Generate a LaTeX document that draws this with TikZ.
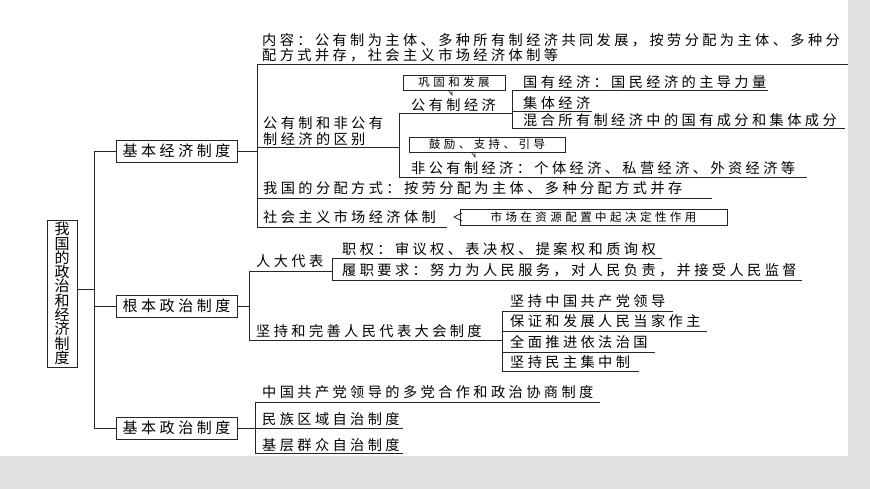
\documentclass[tikz,border=0pt]{standalone}
\usepackage{fontspec}
\newfontfamily\cj[LetterSpace=24]{Noto Sans CJK SC}
\newfontfamily\cjs[LetterSpace=30]{Noto Sans CJK SC}
\begin{document}
\begin{tikzpicture}[x=1pt,y=-1pt,
  ln/.style={draw=black!85,line width=0.9pt},
  tx/.style={anchor=west,inner sep=0pt,font=\cj\fontsize{14.2}{16}\selectfont,align=left},
  sm/.style={anchor=center,inner sep=0pt,font=\cjs\fontsize{11.5}{12}\selectfont},
  bx/.style={draw=black!85,line width=0.9pt,fill=white}]
\fill[black!12] (0,0) rectangle (870,489);
\fill[white] (0,0) rectangle (848,456);
% root
\draw[bx] (47,220) rectangle (77,367);
\node[inner sep=0pt,align=center,font=\cj\fontsize{15}{14.3}\selectfont] (root) at (62,293.5) {我\\国\\的\\政\\治\\和\\经\\济\\制\\度};
\draw[ln] (77,289) -- (94,289);
\draw[ln] (94,151) -- (94,428);
% level1
\foreach \yy/\nm/\t in {151/b1/基本经济制度,306/b2/根本政治制度,428/b3/基本政治制度}{
  \draw[ln] (94,\yy) -- (116,\yy);
  \draw[bx] (116,\yy-11) rectangle (237,\yy+11);
  \node[inner sep=0pt,font=\cj\fontsize{15}{16}\selectfont] (\nm) at (176.5,\yy) {\t};
}
% ---- basic economic
\draw[ln] (237,151) -- (257,151);
\draw[ln] (257,64) -- (257,227);
\node[tx,font=\cj\fontsize{14.2}{15.5}\selectfont] (c1) at (262,47.5) {内容：公有制为主体、多种所有制经济共同发展，按劳分配为主体、多种分\\配方式并存，社会主义市场经济体制等};
\draw[ln] (257,64) -- (848,64);
\node[tx] (c2) at (263,131) {公有制和非公有\\制经济的区别};
\draw[ln] (257,147) -- (399,147);
\draw[ln] (399,113) -- (399,177);
\draw[bx] (403,75) rectangle (505,90);
\node[sm] (g1) at (454,82.5) {巩固和发展};
\draw[black!85,line width=0.7pt] (448,90) -- (452,95) -- (452,90);
\node[tx] (p1) at (411,105) {公有制经济};
\draw[ln] (399,113) -- (512,113);
\draw[ln] (512,90) -- (512,128);
\node[tx] (s1) at (523,82) {国有经济：国民经济的主导力量};
\draw[ln] (512,90) -- (768,90);
\node[tx] (s2) at (523,103) {集体经济};
\draw[ln] (512,111) -- (592,111);
\node[tx] (s3) at (523,120) {混合所有制经济中的国有成分和集体成分};
\draw[ln] (512,128) -- (845,128);
\draw[bx] (409,137) rectangle (565,152);
\node[sm] (g2) at (487,144.5) {鼓励、支持、引导};
\draw[black!85,line width=0.7pt] (471,152) -- (475,157) -- (475,152);
\node[tx] (p2) at (411,168) {非公有制经济：个体经济、私营经济、外资经济等};
\draw[ln] (399,177) -- (807,177);
\node[tx] (c3) at (263,188) {我国的分配方式：按劳分配为主体、多种分配方式并存};
\draw[ln] (257,198) -- (712,198);
\node[tx] (c4) at (263,217) {社会主义市场经济体制};
\draw[ln] (257,227) -- (447,227);
\draw[bx] (460,209) rectangle (727,225);
\node[sm] (g3) at (593.5,217) {市场在资源配置中起决定性作用};
\draw[black!85,line width=0.8pt] (462,213) -- (454,217) -- (462,221);
% ---- fundamental political
\draw[ln] (237,306) -- (249,306);
\draw[ln] (249,271) -- (249,340);
\node[tx] (r1) at (256,261) {人大代表};
\draw[ln] (249,271) -- (332,271);
\draw[ln] (332,258) -- (332,280);
\node[tx] (r11) at (342,249) {职权：审议权、表决权、提案权和质询权};
\draw[ln] (332,258) -- (662,258);
\node[tx] (r12) at (342,270) {履职要求：努力为人民服务，对人民负责，并接受人民监督};
\draw[ln] (332,280) -- (802,280);
\node[tx] (r2) at (256,331) {坚持和完善人民代表大会制度};
\draw[ln] (249,340) -- (502,340);
\draw[ln] (502,311) -- (502,371);
\node[tx] (r21) at (510,301) {坚持中国共产党领导};
\draw[ln] (502,311) -- (673,311);
\node[tx] (r22) at (510,321) {保证和发展人民当家作主};
\draw[ln] (502,331) -- (707,331);
\node[tx] (r23) at (510,342) {全面推进依法治国};
\draw[ln] (502,352) -- (655,352);
\node[tx] (r24) at (510,362) {坚持民主集中制};
\draw[ln] (502,371) -- (639,371);
% ---- basic political
\draw[ln] (237,428) -- (255,428);
\draw[ln] (255,402) -- (255,453);
\node[tx] (q1) at (262,392) {中国共产党领导的多党合作和政治协商制度};
\draw[ln] (255,402) -- (600,402);
\node[tx] (q2) at (262,419) {民族区域自治制度};
\draw[ln] (255,428) -- (403,428);
\node[tx] (q3) at (262,445) {基层群众自治制度};
\draw[ln] (255,453) -- (403,453);
\end{tikzpicture}
\end{document}
